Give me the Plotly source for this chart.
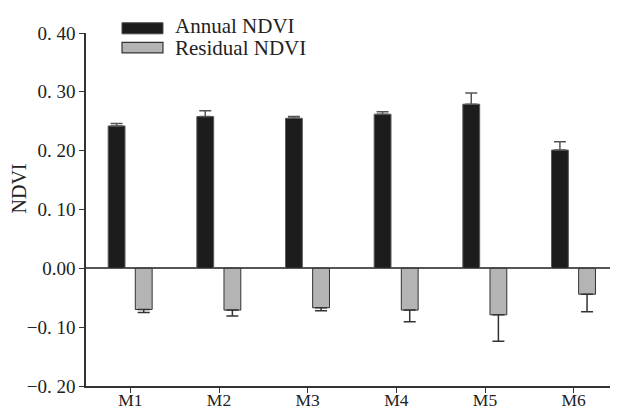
import plotly.graph_objects as go

categories = ["M1", "M2", "M3", "M4", "M5", "M6"]
series_names = ["Annual NDVI", "Residual NDVI"]
annual = [0.242, 0.258, 0.255, 0.262, 0.279, 0.201]
annual_err = [0.004, 0.010, 0.003, 0.004, 0.019, 0.014]
residual = [-0.070, -0.071, -0.067, -0.071, -0.079, -0.044]
residual_err = [0.005, 0.010, 0.005, 0.020, 0.045, 0.030]
tick_vals = [-0.2, -0.1, 0.0, 0.1, 0.2, 0.3, 0.4]
tick_text = ["\u22120. 20", "\u22120. 10", "0.00", "0. 10", "0. 20", "0. 30", "0. 40"]
y_title = "NDVI"

FONT = "Liberation Serif, Times New Roman, serif"
BLACK = "#1c1c1c"
GRAY = "#b4b4b4"

fig = go.Figure()
fig.add_trace(go.Bar(
    x=categories, y=annual, name=series_names[0],
    width=0.19, offset=-0.25,
    marker=dict(color=BLACK, line=dict(color="#5a5a5a", width=1)),
    error_y=dict(type="data", symmetric=False, array=annual_err,
                 arrayminus=[0] * len(annual_err),
                 color="#555555", thickness=1.5, width=6),
    showlegend=False,
))
fig.add_trace(go.Bar(
    x=categories, y=residual, name=series_names[1],
    width=0.19, offset=0.056,
    marker=dict(color=GRAY, line=dict(color="#333333", width=1)),
    error_y=dict(type="data", symmetric=False, array=[0] * len(residual_err),
                 arrayminus=residual_err,
                 color="#333333", thickness=1.5, width=6),
    showlegend=False,
))

# legend swatches (drawn manually to match the wide rectangles)
fig.add_shape(type="rect", xref="paper", yref="paper",
              x0=0.0677, x1=0.1447, y0=0.9977, y1=1.0289,
              fillcolor=BLACK, line=dict(color="#444444", width=1))
fig.add_shape(type="rect", xref="paper", yref="paper",
              x0=0.0677, x1=0.1447, y0=0.9436, y1=0.9737,
              fillcolor=GRAY, line=dict(color="#333333", width=1.2))
fig.add_annotation(xref="paper", yref="paper", x=0.163, y=1.0212,
                   text=series_names[0], showarrow=False, xanchor="left",
                   yanchor="middle", font=dict(family=FONT, size=21, color="#222"))
fig.add_annotation(xref="paper", yref="paper", x=0.163, y=0.9589,
                   text=series_names[1], showarrow=False, xanchor="left",
                   yanchor="middle", font=dict(family=FONT, size=21, color="#222"))
# y-axis title (placed off-centre, as in the reference)
fig.add_annotation(xref="paper", yref="paper", x=-0.1269, y=0.561,
                   text=y_title, showarrow=False, textangle=-90,
                   xanchor="center", yanchor="middle",
                   font=dict(family=FONT, size=20, color="#222"))

# page has an 8px body margin: figure is sized/margined to compensate
fig.update_layout(
    width=610, height=401,
    margin=dict(l=78, r=0, t=25, b=23),
    paper_bgcolor="white", plot_bgcolor="white",
    barmode="overlay",
    font=dict(family=FONT, size=17, color="#222"),
    xaxis=dict(
        range=[-0.5, 5.5], showline=True, linecolor="#333", linewidth=1.5,
        ticks="outside", ticklen=5, tickcolor="#333", tickwidth=1.2,
        showgrid=False, zeroline=False, automargin=False,
        ticklabelstandoff=-8,
        tickfont=dict(family=FONT, size=17.5, color="#222"),
    ),
    yaxis=dict(
        range=[-0.2, 0.4], tickvals=tick_vals, ticktext=tick_text,
        showline=True, linecolor="#333", linewidth=1.5,
        ticks="outside", ticklen=5, tickcolor="#333", tickwidth=1.2,
        showgrid=False, zeroline=True, zerolinecolor="#555", zerolinewidth=1.5,
        automargin=False,
        tickfont=dict(family=FONT, size=19, color="#222"),
    ),
)

fig.write_html("out.html")
